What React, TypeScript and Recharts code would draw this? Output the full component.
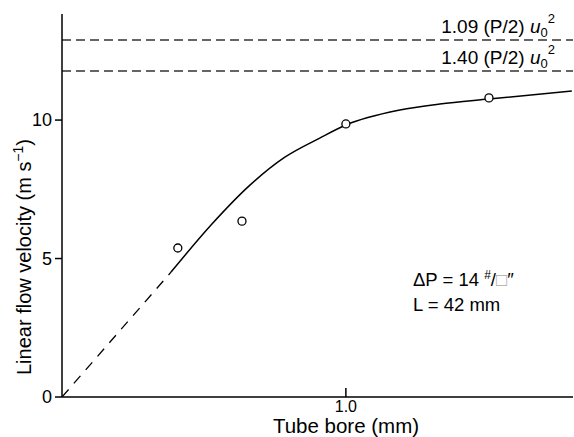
import React from 'react';
import { ComposedChart, Line, Scatter, XAxis, YAxis, ReferenceLine, Customized } from 'recharts';

const curveX = [0.384, 0.525, 0.662, 0.785, 0.908, 1.0, 1.19, 1.331, 1.504, 1.796];
const curveY = [4.51, 6.21, 7.65, 8.66, 9.35, 9.82, 10.36, 10.58, 10.76, 11.05];
const extrapX = [0, 0.384];
const extrapY = [0, 4.51];
const pointX = [0.408, 0.634, 1.0, 1.504];
const pointY = [5.38, 6.35, 9.86, 10.8];
const xTicks = [1.0];
const yTicks = [0, 5, 10];
const refLevels = [12.89, 11.77];
const refCoefs = ['1.09', '1.40'];

const curveData = curveX.map((x, i) => ({ x, y: curveY[i] }));
const extrapData = extrapX.map((x, i) => ({ x, y: extrapY[i] }));
const pointData = pointX.map((x, i) => ({ x, y: pointY[i] }));

const FONT = '"Liberation Sans", Arial, Helvetica, sans-serif';

const XTick = (props: any) => {
  const { x, y, payload } = props;
  return (
    <g>
      <line x1={x} y1={y} x2={x} y2={y - 9} stroke="#000" strokeWidth={1.5} />
      <text x={x} y={y + 15} textAnchor="middle" fontSize={16} fontFamily={FONT} fill="#000">
        {Number(payload.value).toFixed(1)}
      </text>
    </g>
  );
};

const RefLabel = (coef: string) => (props: any) => {
  const vb = props.viewBox || {};
  const xr = (vb.x || 0) + (vb.width || 0) - 18;
  const y = (vb.y || 0) - 7;
  return (
    <text x={xr} y={y} textAnchor="end" fontSize={19} fontFamily={FONT} fill="#000">
      {coef} (P/2) <tspan fontStyle="italic">u</tspan>
      <tspan fontSize={13} dy={4}>0</tspan>
      <tspan fontSize={13} dy={-14}>2</tspan>
    </text>
  );
};

const Annotations = () => (
  <g fontFamily={FONT} fill="#000">
    <text x={413} y={286} fontSize={18.5}>
      ΔP = 14 <tspan fontSize={12} dy={-7}>#</tspan>
      <tspan dy={7}>/</tspan>
      <tspan fill="#aaa">□</tspan>
      <tspan>″</tspan>
    </text>
    <text x={413} y={311} fontSize={18.5}>L = 42 mm</text>
    <text x={346} y={433} fontSize={20.5} textAnchor="middle">Tube bore (mm)</text>
    <text transform="translate(31,257) rotate(-90)" fontSize={20} textAnchor="middle">
      Linear flow velocity (m s<tspan fontSize={14} dy={-8}>−1</tspan>
      <tspan dy={8}>)</tspan>
    </text>
  </g>
);

export default function App() {
  return (
    <div style={{ position: 'absolute', left: 0, top: 0, background: '#fff' }}>
      <ComposedChart width={574} height={437} margin={{ top: 14, right: 1, left: 22, bottom: 10 }}>
        <XAxis
          type="number"
          dataKey="x"
          domain={[0, 1.8]}
          ticks={xTicks}
          allowDataOverflow
          height={30}
          tickSize={0}
          tickMargin={0}
          tickLine={false}
          tick={<XTick />}
          axisLine={{ stroke: '#000', strokeWidth: 1.5 }}
        />
        <YAxis
          type="number"
          dataKey="y"
          domain={[0, 13.83]}
          ticks={yTicks}
          allowDataOverflow
          width={40}
          tickSize={7}
          tickMargin={3}
          tick={{ fontSize: 18, fill: '#000', fontFamily: FONT }}
          tickLine={{ stroke: '#000', strokeWidth: 1.5 }}
          axisLine={{ stroke: '#000', strokeWidth: 1.5 }}
        />
        {refLevels.map((lv, i) => (
          <ReferenceLine
            key={i}
            y={lv}
            stroke="#333"
            strokeWidth={1.5}
            strokeDasharray="9 5"
            label={{ content: RefLabel(refCoefs[i]) } as any}
          />
        ))}
        <Line data={extrapData} dataKey="y" type="linear" stroke="#000" strokeWidth={1.3} strokeDasharray="10 8" dot={false} isAnimationActive={false} />
        <Line data={curveData} dataKey="y" type="monotone" stroke="#000" strokeWidth={1.5} dot={false} isAnimationActive={false} />
        <Scatter
          data={pointData}
          dataKey="y"
          isAnimationActive={false}
          shape={(p: any) => <circle cx={p.cx} cy={p.cy} r={4} fill="#fff" stroke="#000" strokeWidth={1.3} />}
        />
        <Customized component={Annotations} />
      </ComposedChart>
    </div>
  );
}
